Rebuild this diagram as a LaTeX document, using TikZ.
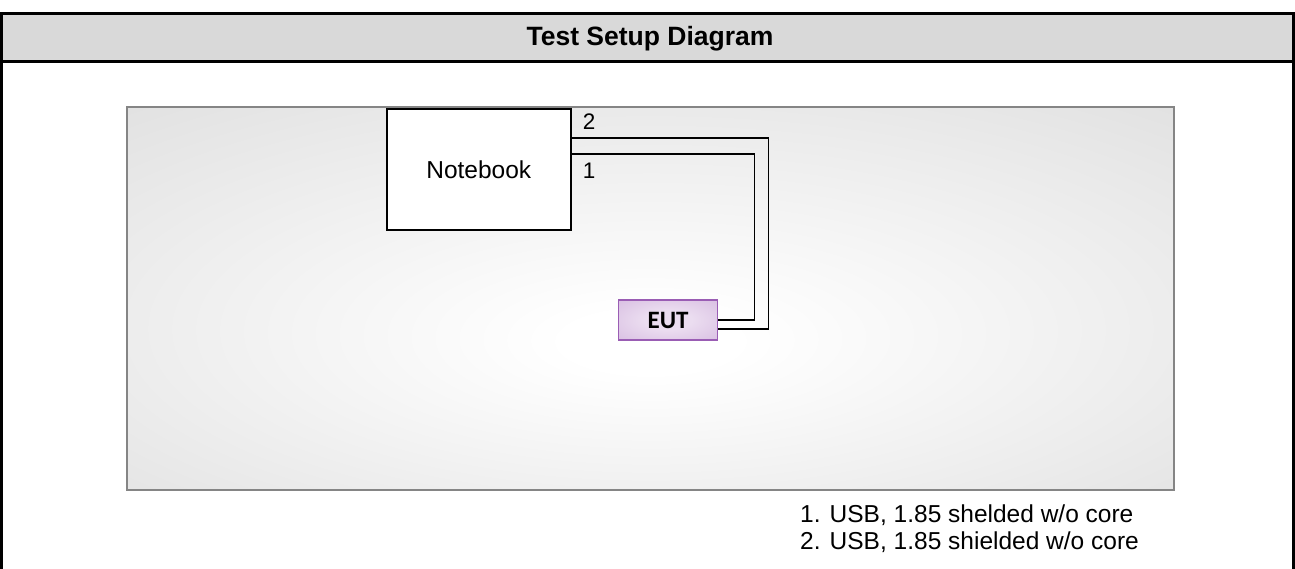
\documentclass[tikz,border=0pt]{standalone}
\usepackage{fontspec}
\setmainfont{Liberation Sans}
\newfontfamily\eutfont{Carlito}
\usetikzlibrary{calc}
\definecolor{hdrgray}{HTML}{D9D9D9}
\definecolor{panelgray}{HTML}{C7C7C7}
\definecolor{panelline}{HTML}{858585}
\definecolor{eutline}{HTML}{9A5DB4}
\definecolor{eutin}{HTML}{EBDDF0}
\definecolor{eutout}{HTML}{BF96CF}
\pgfdeclareradialshading{panelshade}{\pgfpoint{0bp}{-6bp}}{color(0bp)=(white); color(4bp)=(white); color(68bp)=(panelgray)}
\pgfdeclareradialshading{eutshade}{\pgfpoint{0bp}{0bp}}{color(0bp)=(eutin); color(12bp)=(eutin); color(70bp)=(eutout)}
\tikzset{
  frame/.style={line width=3pt, draw=black},
  devicebox/.style={draw=black, line width=1.6pt, fill=white, minimum width=184pt, minimum height=121pt, inner sep=0pt, font=\fontsize{24.5}{28}\selectfont},
  eutbox/.style={draw=eutline, line width=1.8pt, shading=eutshade, minimum width=99pt, minimum height=40pt, inner sep=0pt, font=\eutfont\bfseries\fontsize{25}{28}\selectfont},
  cable/.style={draw=black, line width=1.6pt},
  lbl/.style={font=\fontsize{22.5}{26}\selectfont, inner sep=0pt},
  legend/.style={font=\fontsize{24.5}{27}\selectfont, inner sep=0pt, anchor=west}
}
\begin{document}
\begin{tikzpicture}[x=1pt,y=-1pt]
\useasboundingbox (0,0) rectangle (1295,569);
% header
\fill[hdrgray] (0,13.5) rectangle (1295,62);
\node[font=\bfseries\fontsize{26.5}{30}\selectfont] (title) at (650,39) {Test Setup Diagram};
\draw[frame] (1.5,569) -- (1.5,13.5) -- (1293.5,13.5) -- (1293.5,569);
\draw[frame] (0,62) -- (1295,62);
% panel
\shade[shading=panelshade] (127,107) rectangle (1174,490);
\draw[panelline, line width=2pt] (127,107) rectangle (1174,490);
% devices
\node[devicebox, anchor=north west] (nb) at (386,108) {Notebook};
\node[eutbox] (eut) at (668,320) {EUT};
% cables
\draw[cable] ([yshift=-30pt]nb.north east) -- ++(197,0) |- ([yshift=-9pt]eut.east);
\draw[cable] ([yshift=-46pt]nb.north east) -- ++(183,0) |- (eut.east);
\node[lbl] (l2) at (589,122) {2};
\node[lbl] (l1) at (589,171) {1};
% legend
\node[legend] (leg1) at (800,515) {1. USB, 1.85 shelded w/o core};
\node[legend] (leg2) at (800,542) {2. USB, 1.85 shielded w/o core};
\end{tikzpicture}
\end{document}
